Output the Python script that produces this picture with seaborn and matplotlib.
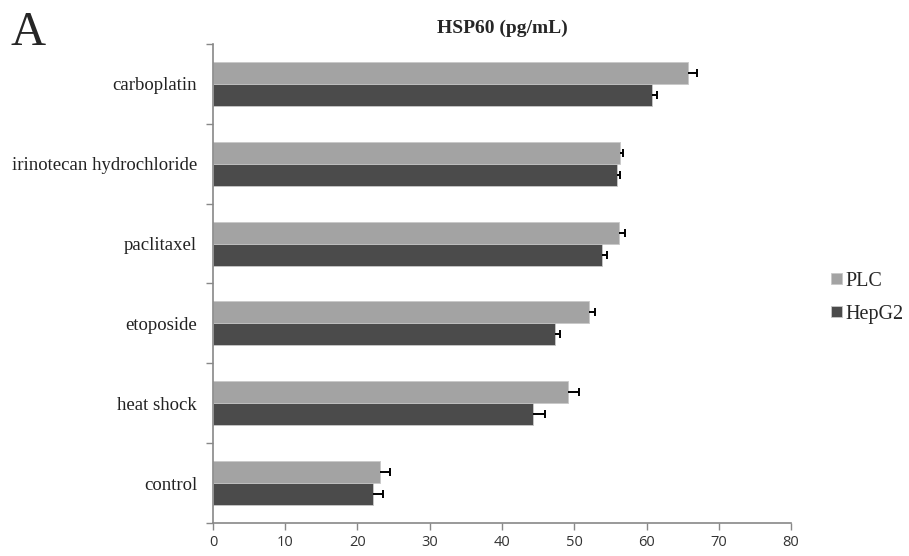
import numpy as np
import pandas as pd
import matplotlib
matplotlib.use("Agg")
import matplotlib.pyplot as plt
import seaborn as sns

# values
treatments = ["carboplatin", "irinotecan hydrochloride", "paclitaxel",
              "etoposide", "heat shock", "control"]
plc_values = [65.8, 56.4, 56.2, 52.1, 49.1, 23.1]
plc_errors = [1.2, 0.4, 0.8, 0.8, 1.6, 1.4]
hepg2_values = [60.7, 55.9, 53.8, 47.4, 44.3, 22.1]
hepg2_errors = [0.8, 0.4, 0.8, 0.6, 1.6, 1.4]
series = ["PLC", "HepG2"]
x_ticks = [0, 10, 20, 30, 40, 50, 60, 70, 80]


def build_frame():
    rows = []
    for i, t in enumerate(treatments):
        rows.append({"treatment": t, "line": "PLC", "value": plc_values[i], "err": plc_errors[i]})
        rows.append({"treatment": t, "line": "HepG2", "value": hepg2_values[i], "err": hepg2_errors[i]})
    return pd.DataFrame(rows)


def main():
    sns.set_style("white")
    plt.rcParams["font.family"] = ["Liberation Serif", "DejaVu Serif"]

    df = build_frame()
    fig = plt.figure(figsize=(9.09, 5.56), dpi=100)
    ax = fig.add_axes([0.2343, 0.0594, 0.6359, 0.8615])

    palette = {"PLC": "#a3a3a3", "HepG2": "#4b4b4b"}
    sns.barplot(data=df, y="treatment", x="value", hue="line",
                order=treatments, hue_order=series, palette=palette,
                orient="h", width=0.55, errorbar=None, saturation=1,
                edgecolor="#c8c8c8", linewidth=0.6, ax=ax)

    # one-sided error bars (cap only at the far end)
    errs = {"PLC": plc_errors, "HepG2": hepg2_errors}
    for container, name in zip(ax.containers, series):
        for bar, e in zip(container, errs[name]):
            yc = bar.get_y() + bar.get_height() / 2
            x0 = bar.get_width()
            ax.hlines(yc, x0, x0 + e, color="black", linewidth=1.4, zorder=4)
            ax.vlines(x0 + e, yc - 0.05, yc + 0.05, color="black",
                      linewidth=1.4, zorder=4)

    ax.set_xlim(0, 80)
    ax.set_ylim(len(treatments) - 0.5, -0.5)
    ax.set_xticks(x_ticks)
    ax.set_xticklabels([str(v) for v in x_ticks], family="Open Sans",
                       fontsize=10.5, color="#333333")

    # ticks at category boundaries, labels at centres
    ax.set_yticks(np.arange(-0.5, len(treatments), 1.0))
    ax.set_yticklabels([])
    ax.set_yticks(np.arange(len(treatments)), minor=True)
    ax.set_yticklabels(treatments, minor=True, fontsize=13.5, color="#222222")
    ax.tick_params(axis="y", which="minor", length=0, pad=11.5)
    ax.tick_params(axis="y", which="major", direction="out", length=5,
                   width=1, color="#888888", left=True)
    ax.tick_params(axis="x", direction="out", length=5, width=1,
                   color="#888888", bottom=True, pad=4)

    ax.set_xlabel("")
    ax.set_ylabel("")
    for side in ["top", "right"]:
        ax.spines[side].set_visible(False)
    for side in ["left", "bottom"]:
        ax.spines[side].set_color("#888888")
        ax.spines[side].set_linewidth(1.2)

    ax.legend(loc="center left", bbox_to_anchor=(1.07, 0.47), frameon=False,
              fontsize=14.5, handlelength=0.5, handleheight=0.5,
              handletextpad=0.2, labelspacing=0.7, borderaxespad=0,
              borderpad=0)

    ax.set_title("HSP60 (pg/mL)", fontsize=14, fontweight="bold", pad=8)
    fig.text(0.012, 0.919, "A", fontsize=35, ha="left", va="baseline")

    fig.savefig("out.png", dpi=100)


if __name__ == "__main__":
    main()
